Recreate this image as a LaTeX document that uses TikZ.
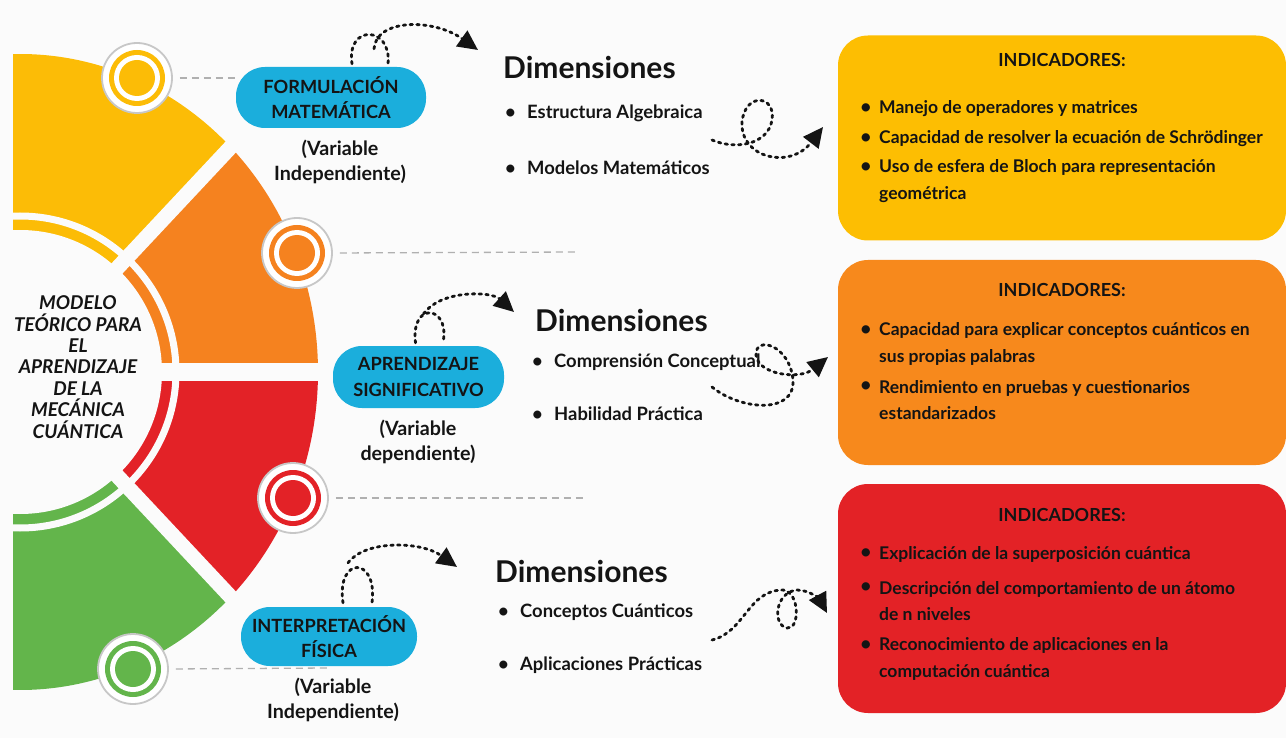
\documentclass[tikz,border=0pt]{standalone}
\usepackage{fontspec}
\setmainfont{Lato}
\usetikzlibrary{arrows.meta}
\definecolor{cyel}{HTML}{FCBC06}
\definecolor{corg}{HTML}{F5821F}
\definecolor{cred}{HTML}{E32227}
\definecolor{cgrn}{HTML}{63B54B}
\definecolor{cpill}{HTML}{1BAEDC}
\definecolor{cbg}{HTML}{FBFBFB}
\definecolor{cdash}{HTML}{B0B0B0}
\definecolor{cbox1}{HTML}{FDBE02}
\definecolor{cbox2}{HTML}{F7891C}
\definecolor{cbox3}{HTML}{E32226}
\definecolor{ctxt}{HTML}{141414}
\tikzset{
  ringnode/.style={circle, inner sep=0pt, minimum size=70pt, fill=white, draw=black!22, line width=1.8pt,
    path picture={\fill[#1] (path picture bounding box.center) circle[radius=28pt];
                  \fill[white] (path picture bounding box.center) circle[radius=23pt];
                  \fill[#1] (path picture bounding box.center) circle[radius=18pt];}},
  pill/.style={rounded corners=29pt, fill=cpill, align=center, text=ctxt, inner sep=0pt, font=\fontsize{18.2}{25.5}\selectfont\bfseries},
  varlbl/.style={align=center, text=ctxt, inner sep=0pt, font=\fontsize{19.7}{25}\selectfont\bfseries},
  dimhead/.style={anchor=west, text=ctxt, inner sep=0pt, font=\fontsize{30}{34}\selectfont\bfseries},
  dimitem/.style={anchor=west, text=ctxt, inner sep=0pt, font=\fontsize{18.4}{22}\selectfont\bfseries},
  ibox/.style={rounded corners=30pt, fill=#1, inner sep=0pt},
  ititle/.style={text=ctxt, inner sep=0pt, font=\fontsize{18}{22}\selectfont\bfseries},
  iitem/.style={anchor=west, align=left, text=ctxt, inner sep=0pt, font=\fontsize{17.5}{26.5}\selectfont\bfseries},
  ibullet/.style={text=ctxt, inner sep=0pt, font=\fontsize{19}{20}\selectfont\bfseries},
  dashline/.style={cdash, line width=1.3pt, dash pattern=on 7pt off 5pt},
  squig/.style={ctxt, line width=2.8pt, dash pattern=on 2.5pt off 4.3pt, line cap=round, -{Triangle[length=20pt,width=19pt]}},
  centertxt/.style={align=center, text=ctxt, inner sep=0pt, font=\fontsize{19}{21.4}\selectfont\bfseries\itshape},
}
\begin{document}
\begin{tikzpicture}[x=1pt,y=-1pt]
\fill[cbg] (0,0) rectangle (1286,738);
\useasboundingbox (0,0) rectangle (1286,738);
% ---------- wheel ----------
\coordinate (C) at (20,372);
\begin{scope}
\clip (13,0) rectangle (420,738);
\fill[cyel] (C) -- +(-100:298 and 318) arc[start angle=-100,end angle=-45,x radius=298,y radius=318] -- cycle;
\fill[corg] (C) -- +(-45:298 and 318) arc[start angle=-45,end angle=0,x radius=298,y radius=318] -- cycle;
\fill[cred] (C) -- +(0:298 and 318) arc[start angle=0,end angle=45,x radius=298,y radius=318] -- cycle;
\fill[cgrn] (C) -- +(45:298 and 318) arc[start angle=45,end angle=100,x radius=298,y radius=318] -- cycle;
\draw[cbg, line width=15pt] (C) -- +(-45:400 and 427);
\draw[cbg, line width=18pt] (C) -- +(0:420);
\draw[cbg, line width=15pt] (C) -- +(45:400 and 427);
\draw[cbg, line width=7pt] (C) circle[radius=156];
\fill[cbg] (C) circle[radius=142];
\end{scope}
\node[centertxt] (center) at (78,367) {MODELO\\TEÓRICO PARA\\EL\\APRENDIZAJE\\DE LA\\MECÁNICA\\CUÁNTICA};
% ---------- ring icons ----------
\node[ringnode=cyel] (c1) at (137,78) {};
\node[ringnode=corg] (c2) at (297,253) {};
\node[ringnode=cred] (c3) at (293,498) {};
\node[ringnode=cgrn] (c4) at (133,669) {};
% ---------- pills ----------
\node[pill, minimum width=190pt, minimum height=61pt] (p1) at (331,97.5) {FORMULACIÓN\\MATEMÁTICA};
\node[pill, minimum width=171pt, minimum height=62pt] (p2) at (418.5,377) {APRENDIZAJE\\SIGNIFICATIVO};
\node[pill, minimum width=176pt, minimum height=59pt] (p3) at (329,636.5) {INTERPRETACIÓN\\FÍSICA};
\node[varlbl] (v1) at (340,162) {(Variable\\Independiente)};
\node[varlbl] (v2) at (418,442) {(Variable\\dependiente)};
\node[varlbl] (v3) at (333,700) {(Variable\\Independiente)};
% ---------- dashed leaders ----------
\coordinate (e2) at (576,252);
\coordinate (e3) at (584,498);
\coordinate (e4) at (328,668);
\draw[dashline, shorten <=7pt] (c1.east) -- (c1.east -| p1.west);
\draw[dashline, shorten <=7pt] (c2.east) -- (e2);
\draw[dashline, shorten <=7pt] (c3.east) -- (e3);
\draw[dashline, shorten <=7pt] (c4.east) -- (e4);
% ---------- dimensiones ----------
\node[dimhead] (d1) at (503,68) {Dimensiones};
\node[dimitem] (b11) at (505,113) {\makebox[22pt][l]{•}Estructura Algebraica};
\node[dimitem] (b12) at (505,168) {\makebox[22pt][l]{•}Modelos Matemáticos};
\node[dimhead] (d2) at (535,320) {Dimensiones};
\node[dimitem] (b21) at (532,362) {\makebox[22pt][l]{•}Comprensión Conceptual};
\node[dimitem] (b22) at (532,414) {\makebox[22pt][l]{•}Habilidad Práctica};
\node[dimhead] (d3) at (495,571) {Dimensiones};
\node[dimitem] (b31) at (498,612) {\makebox[22pt][l]{•}Conceptos Cuánticos};
\node[dimitem] (b32) at (498,665) {\makebox[22pt][l]{•}Aplicaciones Prácticas};
% ---------- indicator boxes ----------
\node[ibox=cbox1, minimum width=448pt, minimum height=205pt] (i1) at (1062,138) {};
\node[ibox=cbox2, minimum width=448pt, minimum height=205pt] (i2) at (1062,362.5) {};
\node[ibox=cbox3, minimum width=448pt, minimum height=229pt] (i3) at (1062,598.5) {};
\node[ititle] (t1) at (1062,60) {INDICADORES:};
\node[ititle] (t2) at (1062,290) {INDICADORES:};
\node[ititle] (t3) at (1062,515) {INDICADORES:};
\node[ibullet] (k11) at (866,109) {•};
\node[iitem] (j11) at (879,109) {Manejo de operadores y matrices};
\node[ibullet] (k12) at (866,139) {•};
\node[iitem] (j12) at (879,139) {Capacidad de resolver la ecuación de Schrödinger};
\node[ibullet] (k13) at (866,168) {•};
\node[iitem] (j13) at (879,181) {Uso de esfera de Bloch para representación\\geométrica};
\node[ibullet] (k21) at (866,331) {•};
\node[iitem] (j21) at (879,344) {Capacidad para explicar conceptos cuánticos en\\sus propias palabras};
\node[ibullet] (k22) at (866,387) {•};
\node[iitem] (j22) at (879,400) {Rendimiento en pruebas y cuestionarios\\estandarizados};
\node[ibullet] (k31) at (866,554) {•};
\node[iitem] (j31) at (879,554) {Explicación de la superposición cuántica};
\node[ibullet] (k32) at (866,588) {•};
\node[iitem] (j32) at (879,601) {Descripción del comportamiento de un átomo\\de n niveles};
\node[ibullet] (k33) at (866,646) {•};
\node[iitem] (j33) at (879,659) {Reconocimiento de aplicaciones en la\\computación cuántica};
% ---------- squiggle arrows ----------
\coordinate (a1e) at (478,50);
\coordinate (a2s) at (712,140);
\coordinate (a2e) at (823,127);
\coordinate (a3e) at (514,312);
\coordinate (a4s) at (712,387);
\coordinate (a4e) at (828,357);
\coordinate (a5e) at (457,567);
\coordinate (a6s) at (712,640);
\coordinate (a6e) at (827,613);
\draw[squig] ([xshift=21pt,yshift=3pt]p1.north) .. controls +(-6,-40) and +(4,-38) .. ([xshift=57pt,yshift=3pt]p1.north)
   ([xshift=43pt,yshift=18pt]p1.north) .. controls +(2,-30) and +(-45,-32) .. (a1e);
\draw[squig] (a2s) .. controls (735,150) and (768,145) .. (772,120) .. controls (776,95) and (745,92) .. (742,122) .. controls (740,158) and (790,170) .. (a2e);
\draw[squig] ([xshift=-3pt,yshift=3pt]p2.north) .. controls +(-5,-41) and +(5,-35) .. ([xshift=25pt,yshift=6pt]p2.north)
   ([xshift=5pt,yshift=32pt]p2.north) .. controls +(17,-24) and +(-23,-21) .. (a3e);
\draw[squig] (a4s) .. controls (740,410) and (795,415) .. (793,380) .. controls (790,345) and (755,335) .. (756,355) .. controls (758,375) and (800,380) .. (a4e);
\draw[squig] ([xshift=14pt,yshift=4pt]p3.north) .. controls +(-7,-47) and +(6,-47) .. ([xshift=43pt,yshift=4pt]p3.north)
   ([xshift=19pt,yshift=44pt]p3.north) .. controls +(17,-23) and +(-36,-26) .. (a5e);
\draw[squig] (a6s) .. controls (745,632) and (748,590) .. (783,590) .. controls (800,592) and (800,630) .. (787,628) .. controls (772,625) and (775,592) .. (797,590) .. controls (810,590) and (820,600) .. (a6e);
\end{tikzpicture}
\end{document}
